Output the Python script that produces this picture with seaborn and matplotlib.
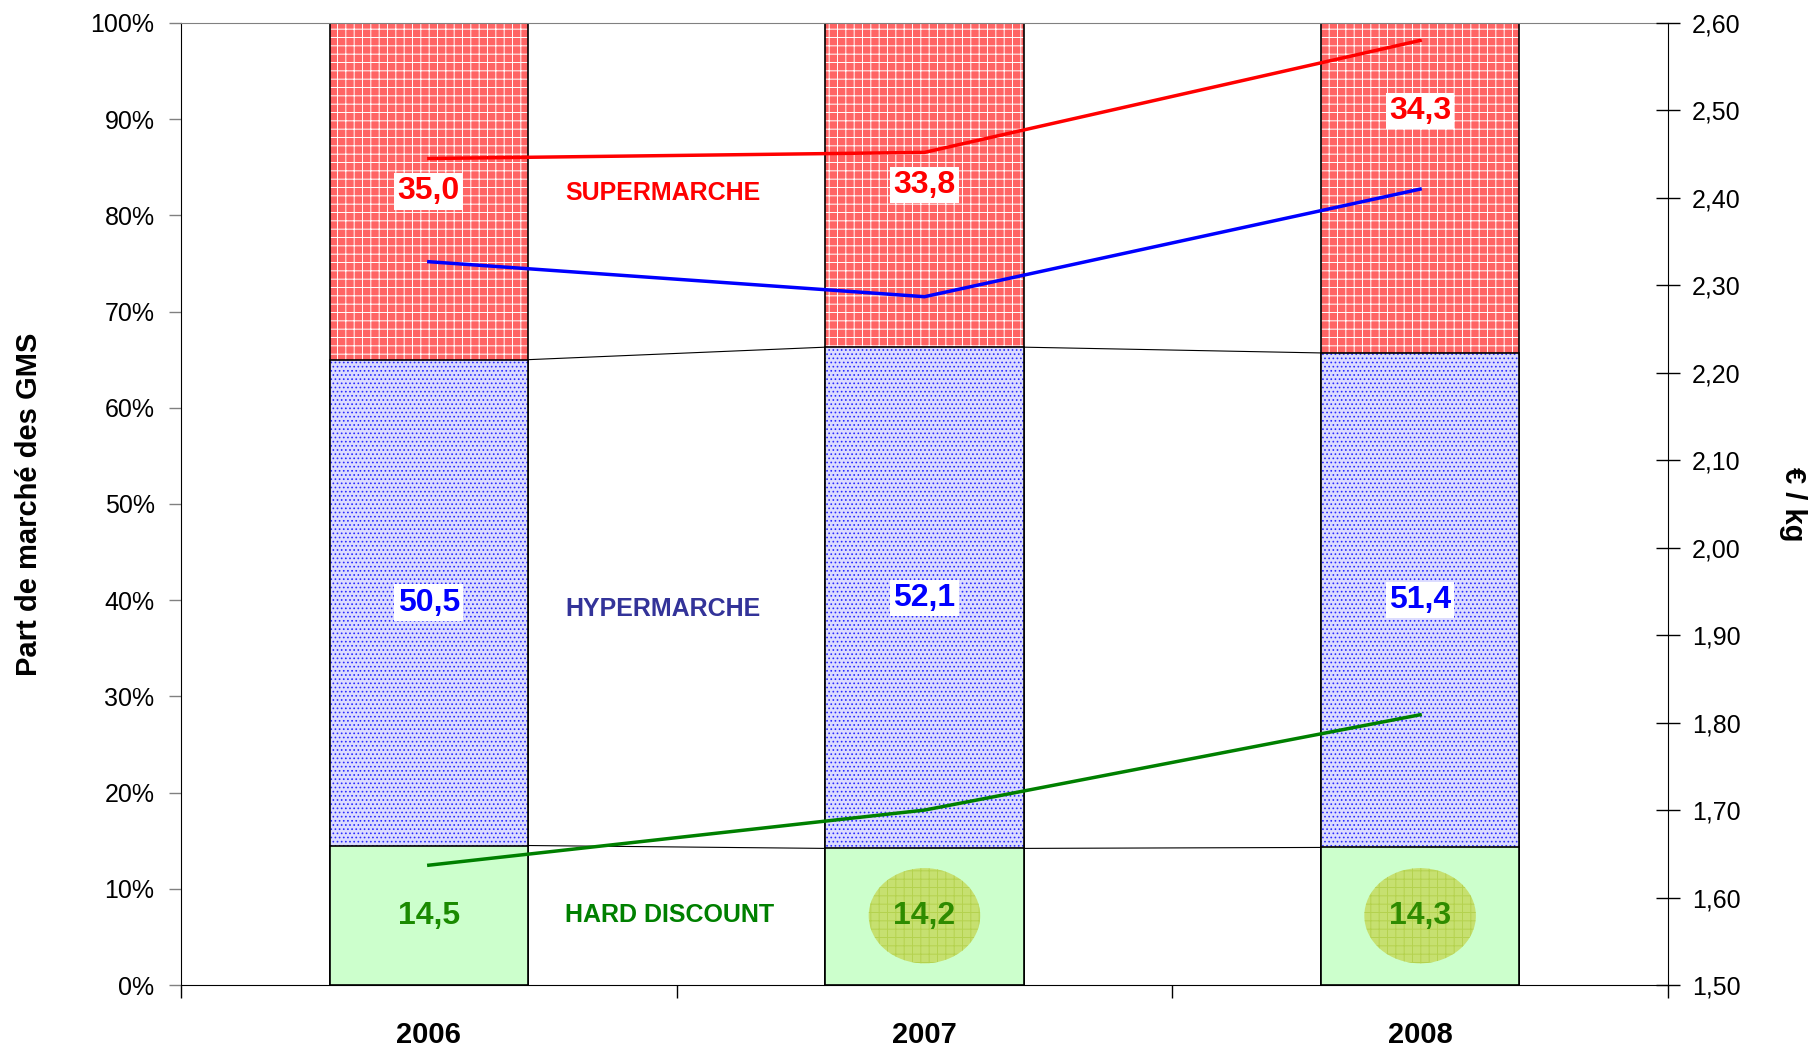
import numpy as np
import matplotlib
matplotlib.use("Agg")
import matplotlib.pyplot as plt
from matplotlib.patches import Ellipse
import seaborn as sns

# data
years = ["2006", "2007", "2008"]
share_hard_discount = [14.5, 14.2, 14.3]
share_hyper = [50.5, 52.1, 51.4]
share_super = [35.0, 33.8, 34.3]

price_super = [2.445, 2.452, 2.58]
price_hyper = [2.327, 2.287, 2.41]
price_hard_discount = [1.637, 1.70, 1.809]

segment_names = ["SUPERMARCHE", "HYPERMARCHE", "HARD DISCOUNT"]
price_ticks = [1.5, 1.6, 1.7, 1.8, 1.9, 2.0, 2.1, 2.2, 2.3, 2.4, 2.5, 2.6]

plt.rcParams["font.family"] = ["Liberation Sans", "DejaVu Sans"]
plt.rcParams["hatch.linewidth"] = 0.7

pos = np.arange(len(years))
hd = np.array(share_hard_discount)
cum_hyper = hd + np.array(share_hyper)
cum_total = cum_hyper + np.array(share_super)
bar_w = 0.4

fig = plt.figure(figsize=(18.1, 10.48), dpi=100)
ax = fig.add_axes([0.1, 0.0601, 0.8215, 0.918])

layers = [
    (cum_total, "#ff6464", "white", "++"),
    (cum_hyper, "#dcdcff", "#2a2aff", "...."),
    (hd, "#ccffcc", "#ccffcc", None),
]
for heights, face, hcol, hatch in layers:
    sns.barplot(x=years, y=heights, color=face, saturation=1, width=bar_w,
                edgecolor=hcol, linewidth=0, hatch=hatch, ax=ax)
    sns.barplot(x=years, y=heights, color="black", fill=False, width=bar_w,
                linewidth=1.2, ax=ax)

# thin series lines between the stacked segments
for bound in (hd, cum_hyper):
    for i in range(len(years) - 1):
        ax.plot([pos[i] + bar_w / 2, pos[i + 1] - bar_w / 2], [bound[i], bound[i + 1]],
                color="black", lw=0.8)

ax.set_xlim(-0.5, len(years) - 0.5)
ax.set_ylim(0, 100)
ax.set_yticks(np.arange(0, 101, 10))
ax.set_yticklabels([f"{v}%" for v in range(0, 101, 10)], fontsize=18)
ax.set_xticks(pos)
ax.set_xticklabels(years, fontsize=21, fontweight="bold")
ax.set_xticks(np.arange(-0.5, len(years)), minor=True)
ax.tick_params(axis="x", which="major", length=0, pad=26)
ax.tick_params(axis="x", which="minor", length=9, width=1, direction="out")
ax.tick_params(axis="y", length=9, width=1, color="#808080", pad=10)
ax.set_xlabel("")
ax.set_ylabel("Part de marché des GMS", fontsize=21, fontweight="bold", va="center")
ax.yaxis.set_label_coords(-0.102, 0.5)
ax.spines["right"].set_visible(False)
ax.spines["top"].set_color("#808080")

# data labels
super_shift = [0, 0, 8]
for i in range(len(years)):
    ax.text(pos[i], (cum_hyper[i] + 100) / 2 + super_shift[i], f"{share_super[i]:.1f}".replace(".", ","),
            ha="center", va="center", color="#ff0000", fontsize=23, fontweight="bold",
            bbox=dict(boxstyle="square,pad=0.1", fc="white", ec="none"))
    ax.text(pos[i], (hd[i] + cum_hyper[i]) / 2, f"{share_hyper[i]:.1f}".replace(".", ","),
            ha="center", va="center", color="#0000ff", fontsize=23, fontweight="bold",
            bbox=dict(boxstyle="square,pad=0.1", fc="white", ec="none"))
    if i > 0:
        ax.add_patch(Ellipse((pos[i], 7.2), 0.225, 9.9, fc="#c6e070", ec="#b4d24e",
                             lw=0, hatch="++", zorder=3))
    ax.text(pos[i], 7.2, f"{share_hard_discount[i]:.1f}".replace(".", ","),
            ha="center", va="center", color="#1a8a00" if i == 0 else "#2e8b00",
            fontsize=23, fontweight="bold", zorder=4)

name_colors = ["#ff0000", "#333399", "#008000"]
name_y = [82.3, 39.1, 7.3]
for name, col, y in zip(segment_names, name_colors, name_y):
    ax.text(0.275, y, name, ha="left", va="center", color=col, fontsize=18, fontweight="bold")

# price lines on the right axis
ax2 = ax.twinx()
for prices, col in [(price_super, "#ff0000"), (price_hyper, "#0000ff"),
                    (price_hard_discount, "#008000")]:
    sns.lineplot(x=pos, y=prices, color=col, lw=2.5, ax=ax2)
ax2.set_ylim(1.5, 2.6)
ax2.set_yticks(price_ticks)
ax2.set_yticklabels([f"{v:.2f}".replace(".", ",") for v in price_ticks], fontsize=18)
ax2.tick_params(axis="y", direction="inout", length=17, width=1, pad=9)
ax2.set_ylabel("€ / kg", fontsize=21, fontweight="bold", rotation=-90, va="center")
ax2.yaxis.set_label_coords(1.084, 0.5)
for s in ("top", "left", "bottom"):
    ax2.spines[s].set_visible(False)
ax2.set_xlim(-0.5, len(years) - 0.5)

fig.savefig("out.png", dpi=100)
